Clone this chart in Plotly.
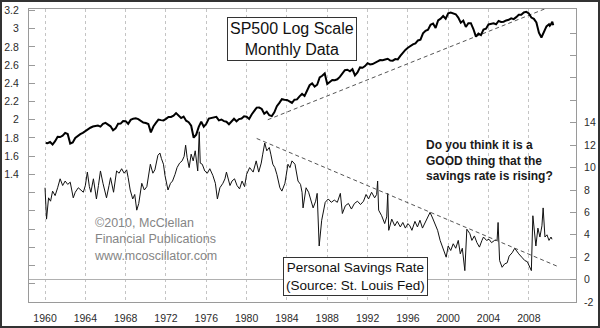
import numpy as np
import plotly.graph_objects as go

# ---------------- data ----------------
# S&P 500 index level: Jan 1960, then quarter-end values 1960-2009, then monthly Jan-May 2010
sp_level = [
    55.6,
    55.3, 56.9, 53.5, 58.1,      # 1960
    65.1, 64.6, 66.7, 71.6,      # 1961
    69.6, 54.8, 56.3, 63.1,      # 1962
    66.6, 69.4, 71.7, 75.0,      # 1963
    79.0, 81.7, 84.2, 84.8,      # 1964
    86.2, 84.1, 90.0, 92.4,      # 1965
    89.2, 84.7, 76.6, 80.3,      # 1966
    90.2, 90.6, 96.7, 96.5,      # 1967
    90.2, 99.6, 102.7, 103.9,    # 1968
    101.5, 97.7, 93.1, 92.1,     # 1969
    89.6, 72.7, 84.3, 92.2,      # 1970
    100.3, 99.0, 98.3, 102.1,    # 1971
    107.2, 107.1, 110.6, 118.1,  # 1972
    111.5, 104.3, 108.4, 97.6,   # 1973
    94.0, 86.0, 63.5, 68.6,      # 1974
    83.4, 95.2, 83.9, 90.2,      # 1975
    102.8, 104.3, 105.2, 107.5,  # 1976
    98.4, 100.5, 96.5, 95.1,     # 1977
    89.2, 95.5, 102.5, 96.1,     # 1978
    101.6, 102.9, 109.3, 107.9,  # 1979
    102.1, 114.2, 125.5, 135.8,  # 1980
    136.0, 131.2, 116.2, 122.6,  # 1981
    112.0, 109.6, 120.4, 140.6,  # 1982
    153.0, 168.1, 166.1, 164.9,  # 1983
    159.2, 153.2, 166.1, 167.2,  # 1984
    180.7, 191.9, 182.1, 211.3,  # 1985
    238.9, 250.8, 231.3, 242.2,  # 1986
    291.7, 304.0, 321.8, 247.1,  # 1987
    258.9, 273.5, 271.9, 277.7,  # 1988
    294.9, 318.0, 349.2, 353.4,  # 1989
    339.9, 358.0, 306.1, 330.2,  # 1990
    375.2, 371.2, 387.9, 417.1,  # 1991
    403.7, 408.1, 417.8, 435.7,  # 1992
    451.7, 450.5, 458.9, 466.5,  # 1993
    445.8, 444.3, 462.7, 459.3,  # 1994
    500.7, 544.8, 584.4, 615.9,  # 1995
    645.5, 670.6, 687.3, 740.7,  # 1996
    757.1, 885.1, 947.3, 970.4,  # 1997
    1101.8, 1133.8, 1017.0, 1229.2,  # 1998
    1286.4, 1372.7, 1282.7, 1469.3,  # 1999
    1498.6, 1454.6, 1436.5, 1320.3,  # 2000
    1160.3, 1224.4, 1040.9, 1148.1,  # 2001
    1147.4, 989.8, 815.3, 879.8,     # 2002
    848.2, 974.5, 996.0, 1111.9,     # 2003
    1126.2, 1140.8, 1114.6, 1211.9,  # 2004
    1180.6, 1191.3, 1228.8, 1248.3,  # 2005
    1294.9, 1270.2, 1335.9, 1418.3,  # 2006
    1420.9, 1503.4, 1526.8, 1468.4,  # 2007
    1322.7, 1280.0, 1166.4, 903.3,   # 2008
    797.9, 919.3, 1057.1, 1115.1,    # 2009
    1073.9, 1104.5, 1169.4, 1186.7, 1089.4,  # 2010 Jan-May
]
sp_year = ([1960.08]
           + [y + q / 4 for y in range(1960, 2010) for q in range(1, 5)]
           + [2010.08, 2010.17, 2010.25, 2010.33, 2010.42])

# Personal savings rate (%)
sav_year = [
    1960.0, 1960.15, 1960.35, 1960.55, 1960.75, 1961.0, 1961.25, 1961.5, 1961.75,
    1962.0, 1962.25, 1962.5, 1962.8, 1963.0, 1963.3, 1963.55, 1963.8,
    1964.0, 1964.2, 1964.4, 1964.55, 1964.8, 1965.1, 1965.3, 1965.5, 1965.75,
    1966.1, 1966.35, 1966.5, 1966.8, 1967.1, 1967.35, 1967.6, 1967.85,
    1968.1, 1968.25, 1968.45, 1968.7, 1968.9, 1969.1, 1969.3, 1969.6, 1969.85,
    1970.1, 1970.3, 1970.45, 1970.7, 1970.9, 1971.2, 1971.4, 1971.55, 1971.75, 1971.9,
    1972.2, 1972.45, 1972.65, 1972.9, 1973.1, 1973.35, 1973.6, 1973.8, 1973.95,
    1974.1, 1974.3, 1974.5, 1974.7, 1974.9, 1975.15, 1975.3, 1975.4, 1975.6, 1975.85,
    1976.1, 1976.35, 1976.65, 1976.9, 1977.1, 1977.35, 1977.65, 1977.85,
    1978.0, 1978.35, 1978.55, 1978.8, 1979.05, 1979.3, 1979.55, 1979.8,
    1980.0, 1980.3, 1980.65, 1980.95, 1981.2, 1981.45, 1981.6, 1981.8,
    1982.0, 1982.25, 1982.4, 1982.6, 1982.8, 1983.0, 1983.3, 1983.5, 1983.8,
    1984.1, 1984.3, 1984.5, 1984.8, 1985.1, 1985.35, 1985.5, 1985.6, 1985.9,
    1986.15, 1986.3, 1986.6, 1986.85, 1987.0, 1987.2, 1987.45, 1987.8,
    1988.1, 1988.4, 1988.7, 1989.0, 1989.3, 1989.5, 1989.8,
    1990.1, 1990.4, 1990.7, 1991.0, 1991.3, 1991.6, 1991.85,
    1992.1, 1992.4, 1992.7, 1992.9, 1993.0, 1993.1, 1993.4, 1993.7, 1993.9,
    1994.0, 1994.1, 1994.4, 1994.7, 1994.95, 1995.25, 1995.5, 1995.75,
    1996.0, 1996.2, 1996.4, 1996.7, 1996.95, 1997.2, 1997.45, 1997.7, 1997.95,
    1998.2, 1998.45, 1998.7, 1998.95, 1999.2, 1999.5, 1999.8,
    2000.0, 2000.25, 2000.5, 2000.75, 2001.0, 2001.2, 2001.4, 2001.65, 2001.85,
    2002.15, 2002.35, 2002.6, 2002.85, 2003.1, 2003.35, 2003.5, 2003.8,
    2004.05, 2004.3, 2004.6, 2004.85, 2004.95, 2005.1, 2005.35, 2005.6, 2005.85,
    2006.05, 2006.35, 2006.6, 2006.8, 2007.0, 2007.3, 2007.6, 2007.85,
    2008.05, 2008.25, 2008.4, 2008.55, 2008.7, 2008.9, 2009.1, 2009.3, 2009.42,
    2009.6, 2009.8, 2010.0, 2010.2, 2010.3,
]
sav_rate = [
    8.2, 5.4, 7.3, 7.0, 7.9, 7.5, 8.2, 9.0, 8.4,
    8.8, 8.5, 8.7, 7.3, 7.8, 8.2, 8.0, 7.8,
    8.4, 9.6, 8.3, 7.8, 9.0, 7.2, 8.4, 9.7, 8.6,
    7.3, 8.4, 9.1, 7.8, 9.7, 9.5, 9.9, 9.5,
    9.8, 9.1, 8.0, 7.2, 7.6, 6.2, 6.8, 8.6, 8.0,
    8.3, 9.4, 10.3, 9.5, 9.8, 11.1, 11.3, 10.8, 10.3, 9.3,
    8.0, 8.6, 8.8, 9.4, 10.0, 10.4, 10.6, 11.0, 12.0,
    10.9, 10.0, 11.2, 10.6, 11.5, 9.7, 13.2, 10.4, 10.3, 9.7,
    9.5, 9.9, 9.3, 8.6, 7.2, 8.2, 8.6, 9.0,
    9.6, 8.4, 8.8, 9.0, 8.4, 8.1, 8.8, 8.3,
    9.4, 10.0, 9.6, 10.6, 9.6, 10.4, 11.2, 12.2,
    11.5, 11.8, 11.2, 10.3, 10.0, 9.4, 8.2, 7.9, 8.6,
    10.3, 10.0, 10.6, 10.3, 8.8, 8.5, 7.8, 6.4, 8.2,
    7.8, 7.3, 6.4, 7.0, 7.7, 3.0, 5.3, 6.9,
    7.2, 6.9, 7.1, 6.9, 7.7, 5.9, 6.6,
    6.8, 6.3, 6.8, 7.0, 6.7, 7.0, 7.6,
    7.2, 7.8, 7.3, 7.6, 8.8, 6.2, 5.7, 5.0, 5.6,
    7.7, 4.4, 5.4, 4.8, 5.2, 4.7, 5.1, 4.6,
    5.0, 4.8, 4.4, 5.2, 4.7, 5.3, 4.6, 5.1, 5.5,
    6.0, 5.5, 4.9, 4.4, 3.5, 2.7, 2.0,
    3.0, 2.6, 3.2, 2.8, 3.5, 2.3, 2.8, 0.8, 4.5,
    4.1, 3.5, 3.9, 3.3, 2.9, 3.5, 3.8, 3.5,
    3.6, 3.3, 3.5, 3.5, 5.1, 1.7, 1.1, 1.4, 1.5,
    2.1, 2.4, 2.8, 2.5, 2.3, 2.0, 1.7, 1.6,
    1.25, 0.8, 5.7, 4.0, 3.0, 4.6, 3.8, 4.8, 6.4,
    3.8, 4.0, 3.5, 3.8, 3.6,
]

# dashed trendlines (endpoints)
sp_trend_year = [1982.1, 2009.9]
sp_trend_val = [2.0, 3.23]
sav_trend_year = [1981.0, 2010.8]
sav_trend_val = [12.6, 1.2]

x_ticks = list(range(1960, 2009, 4))
left_ticks = [round(0.2 * i, 1) for i in range(1, 17)]
left_text = [f"{v:g}" if v >= 1.4 else "" for v in left_ticks]
right_ticks = list(range(-2, 23, 2))
right_text = [str(v) if v <= 14 else "" for v in right_ticks]

sp_log = np.log10(sp_level)

# ---------------- figure ----------------
fig = go.Figure()
fig.add_trace(go.Scatter(x=sav_year, y=sav_rate, yaxis="y2", mode="lines",
                         line=dict(color="#111111", width=1), showlegend=False))
fig.add_trace(go.Scatter(x=sav_trend_year, y=sav_trend_val, yaxis="y2", mode="lines",
                         line=dict(color="#555555", width=1, dash="4px,3px"), showlegend=False))
fig.add_trace(go.Scatter(x=sp_trend_year, y=sp_trend_val, mode="lines",
                         line=dict(color="#555555", width=1, dash="4px,3px"), showlegend=False))
fig.add_trace(go.Scatter(x=sp_year, y=sp_log, mode="lines",
                         line=dict(color="#000000", width=2), showlegend=False))

tickfont = dict(family="Liberation Sans, Arial, sans-serif", size=10.5, color="#2b2b2b")

fig.update_layout(
    width=600, height=328,
    margin=dict(l=29, r=24, t=9, b=26, autoexpand=False),
    paper_bgcolor="white", plot_bgcolor="white",
    xaxis=dict(range=[1958.41, 2012.68], tickvals=x_ticks, ticks="",
               showgrid=True, gridcolor="#c4c4c4", griddash="dot", gridwidth=1,
               showline=True, linecolor="#9a9a9a", mirror=True, zeroline=False,
               tickfont=tickfont, ticklabelstandoff=6, automargin=False),
    yaxis=dict(range=[0, 3.215], tickvals=left_ticks, ticktext=left_text,
               ticks="inside", ticklen=6, tickcolor="#9a9a9a",
               showgrid=False, zeroline=False, showline=True, linecolor="#9a9a9a",
               tickfont=tickfont, ticklabelstandoff=7, automargin=False),
    yaxis2=dict(range=[-2, 24.16], overlaying="y", side="right",
                tickvals=right_ticks, ticktext=right_text,
                ticks="inside", ticklen=6, tickcolor="#9a9a9a",
                showgrid=False, zeroline=True, zerolinecolor="#b0b0b0", zerolinewidth=1,
                showline=True, linecolor="#9a9a9a",
                tickfont=tickfont, ticklabelstandoff=5, automargin=False),
)

ann_font = "Liberation Sans, Arial, sans-serif"
fig.add_annotation(xref="paper", yref="paper", x=(291.5 - 29) / 547, y=1 - (38.5 - 9) / 293,
                   xanchor="center", yanchor="middle",
                   text="SP500 Log Scale<br>Monthly Data", showarrow=False,
                   font=dict(family=ann_font, size=16, color="#111111"),
                   bordercolor="#333333", borderwidth=1, borderpad=2, bgcolor="white")
fig.add_annotation(xref="paper", yref="paper", x=(355.5 - 29) / 547, y=1 - (276.5 - 9) / 293,
                   xanchor="center", yanchor="middle",
                   text="Personal Savings Rate<br>(Source: St. Louis Fed)", showarrow=False,
                   font=dict(family=ann_font, size=13.5, color="#111111"),
                   bordercolor="#333333", borderwidth=1, borderpad=2, bgcolor="white")
fig.add_annotation(xref="paper", yref="paper", x=(424 - 29) / 547, y=1 - (160 - 9) / 293,
                   xanchor="left", yanchor="middle", align="left",
                   text="<b>Do you think it is a<br>GOOD thing that the<br>savings rate is rising?</b>",
                   showarrow=False, font=dict(family=ann_font, size=12, color="#1a1a1a"))
fig.add_annotation(xref="paper", yref="paper", x=(92 - 29) / 547, y=1 - (239.5 - 9) / 293,
                   xanchor="left", yanchor="middle", align="left",
                   text="©2010, McClellan<br>Financial Publications<br>www.mcoscillator.com",
                   showarrow=False, font=dict(family=ann_font, size=12.5, color="#858585"))

# outer frame of the image
fig.add_shape(type="rect", xref="paper", yref="paper",
              x0=(1 - 29) / 547, x1=(599 - 29) / 547,
              y0=-(327 - 302) / 293, y1=1 + (9 - 1) / 293,
              line=dict(color="#333333", width=2), layer="above")

fig.write_html("out.html")
